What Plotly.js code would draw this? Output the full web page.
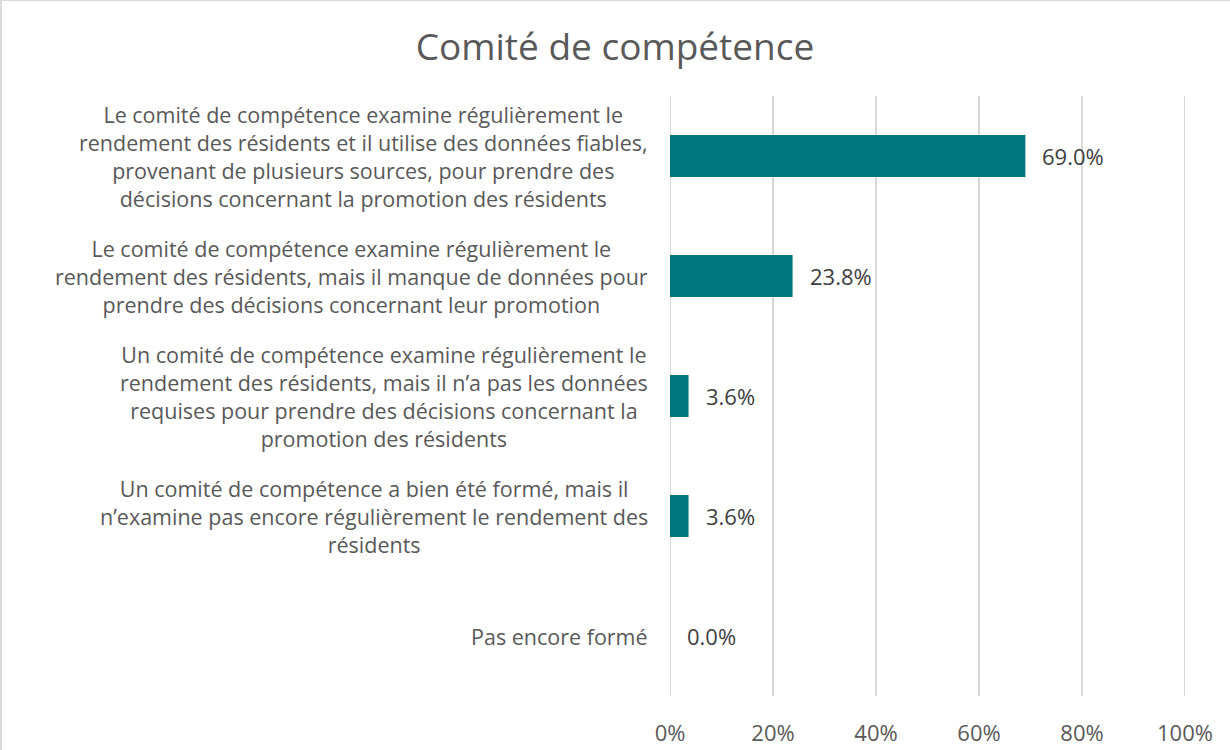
<!DOCTYPE html>
<html>
<head>
<meta charset="utf-8">
<script src="https://cdn.plot.ly/plotly-3.0.1.min.js"></script>
<style>
  html, body { margin: 0; padding: 0; background: #ffffff; }
  #wrap { position: relative; width: 1230px; height: 750px; }
  #chart { width: 1230px; height: 750px; }
  #frame { position: absolute; left: 0; top: 0; width: 1230px; height: 750px; box-sizing: border-box;
           border-left: 2px solid #d9d9d9; border-top: 1px solid #d9d9d9; pointer-events: none; }
</style>
</head>
<body>
<div id="wrap">
  <div id="chart"></div>
  <div id="frame"></div>
</div>
<script>
const chartTitle = "Comité de compétence";

const categories = [
  "Le comité de compétence examine régulièrement le<br>rendement des résidents et il utilise des données fiables,<br>provenant de plusieurs sources, pour prendre des<br>décisions concernant la promotion des résidents",
  "Le comité de compétence examine régulièrement le<br>rendement des résidents, mais il manque de données pour<br>prendre des décisions concernant leur promotion",
  "Un comité de compétence examine régulièrement le<br>rendement des résidents, mais il n’a pas les données<br>requises pour prendre des décisions concernant la<br>promotion des résidents",
  "Un comité de compétence a bien été formé, mais il<br>n’examine pas encore régulièrement le rendement des<br>résidents",
  "Pas encore formé"
];

const values = [69.0, 23.8, 3.6, 3.6, 0.0];

const tickValues = [0, 20, 40, 60, 80, 100];
const tickLabels = ["0%", "20%", "40%", "60%", "80%", "100%"];

const barColor = "#00767C";
const textColor = "#595959";
const labelColor = "#404040";
const gridColor = "#d9d9d9";
const fontFamily = "'Open Sans', 'Noto Sans', sans-serif";

const catIdx = categories.map((c, i) => i);

const trace = {
  type: "bar",
  orientation: "h",
  x: values,
  y: catIdx,
  marker: { color: barColor, line: { width: 0 } },
  hoverinfo: "skip"
};

const annotations = [];
categories.forEach((c, i) => {
  annotations.push({
    xref: "paper", yref: "y",
    x: 0, y: i,
    xanchor: "right", yanchor: "middle",
    xshift: -20,
    align: "center",
    showarrow: false,
    text: c,
    font: { family: fontFamily, size: 21.5, color: textColor }
  });
  annotations.push({
    xref: "x", yref: "y",
    x: values[i], y: i,
    xanchor: "left", yanchor: "middle",
    xshift: 15,
    showarrow: false,
    text: values[i].toFixed(1) + "%",
    font: { family: fontFamily, size: 22, color: labelColor }
  });
});

const gridShapes = tickValues.map(v => ({
  type: "line",
  xref: "x", yref: "paper",
  x0: v, x1: v, y0: 0, y1: 1,
  line: { color: gridColor, width: 2 },
  layer: "below"
}));

const layout = {
  width: 1230,
  height: 750,
  paper_bgcolor: "#ffffff",
  plot_bgcolor: "#ffffff",
  margin: { l: 670, r: 45, t: 96, b: 54, pad: 0 },
  title: {
    text: chartTitle,
    x: 0.5, xref: "container", xanchor: "center",
    y: 1 - 47 / 750, yref: "container", yanchor: "middle",
    font: { family: fontFamily, size: 37, color: textColor }
  },
  bargap: 0.65,
  showlegend: false,
  xaxis: {
    range: [0, 100],
    tickvals: tickValues,
    ticktext: tickLabels,
    showgrid: false,
    zeroline: false,
    showline: false,
    ticks: "",
    ticklabelstandoff: 22,
    tickfont: { family: fontFamily, size: 22, color: textColor },
    fixedrange: true
  },
  yaxis: {
    range: [4.5, -0.5],
    showticklabels: false,
    showgrid: false,
    zeroline: false,
    showline: false,
    ticks: "",
    fixedrange: true
  },
  shapes: gridShapes,
  annotations: annotations
};

Plotly.newPlot("chart", [trace], layout, { displayModeBar: false, staticPlot: true });
</script>
</body>
</html>
